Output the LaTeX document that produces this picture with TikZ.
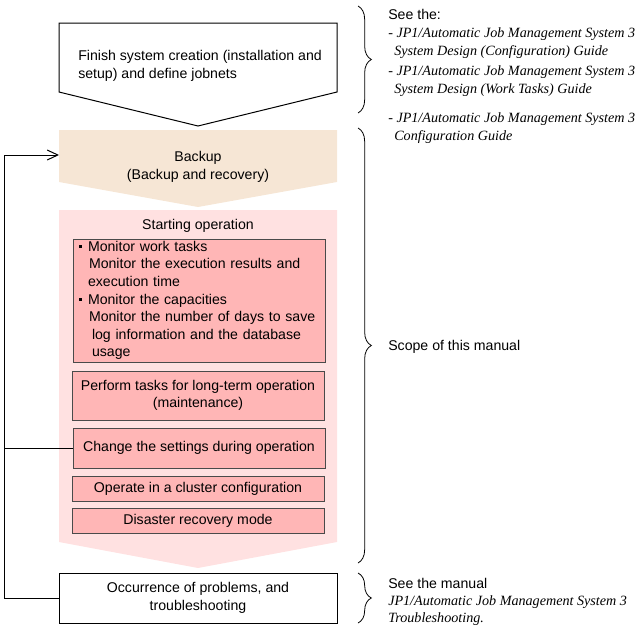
\documentclass[tikz,border=0pt]{standalone}
\usepackage{fontspec}
\setmainfont{Liberation Sans}
\newfontfamily\manualfont{Liberation Serif}
\usetikzlibrary{arrows.meta,decorations.pathreplacing}

\definecolor{backupfill}{HTML}{F6E6D5}
\definecolor{opfill}{HTML}{FFE1E1}
\definecolor{taskfill}{HTML}{FFB6B6}
\definecolor{taskdraw}{HTML}{4A4A4A}

\newcommand{\taskdot}{\makebox[8.25pt][l]{\hspace*{1.5pt}\raisebox{2.6pt}{\rule{1.9pt}{1.9pt}}}}

\begin{document}
\begin{tikzpicture}[x=0.75pt, y=-0.75pt, font=\fontsize{10.6}{13.2}\selectfont]
		\tikzset{task/.style={draw=taskdraw, fill=taskfill, line width=0.75pt, minimum width=189pt, align=center, inner sep=0pt}};
		\tikzset{plain/.style={draw=black, fill=white, line width=0.75pt, minimum width=208.5pt, minimum height=37.5pt, align=center, inner sep=0pt}};
		\tikzset{ref/.style={anchor=base west, inner sep=0pt}};
		\tikzset{book/.style={ref, font=\fontsize{10.6}{13.2}\manualfont\itshape}};
		\tikzset{curly/.style={decorate, decoration={brace, amplitude=10pt}, line width=0.6pt}};

		\useasboundingbox (0,0) rectangle (643,629);

		% phases
		\draw[line width=0.75pt, fill=white] (59,23) -- (337,23) -- (337,92) -- (198,126) -- (59,92) -- cycle;
		\fill[backupfill] (59,130) -- (337,130) -- (337,182) -- (198,207) -- (59,182) -- cycle;
		\fill[opfill] (59,210) -- (337,210) -- (337,542) -- (198,568) -- (59,542) -- cycle;

		\node[anchor=west, align=left, inner sep=0pt] (create) at (78,66) {Finish system creation (installation and\\setup) and define jobnets};
		\node[align=center, inner sep=0pt] (backup) at (198,167) {Backup\\(Backup and recovery)};
		\node[inner sep=0pt] (start) at (198,226) {Starting operation};

		\node[task, minimum height=92.25pt, align=left, inner xsep=3pt, text width=183pt] (monitor) at (199,300.5) {%
			\taskdot Monitor work tasks\\
			\hspace*{9pt}Monitor the execution results and\\
			\hspace*{8.25pt}execution time\\
			\taskdot Monitor the capacities\\
			\hspace*{9pt}Monitor the number of days to save\\
			\hspace*{11.25pt}log information and the database\\
			\hspace*{11.25pt}usage};
		\node[task, minimum height=36.75pt] (maint) at (198,395.5) {Perform tasks for long-term operation\\(maintenance)};
		\node[task, minimum height=30pt] (change) at (199,448) {Change the settings during operation};
		\node[task, minimum height=18.75pt] (cluster) at (198,488.5) {Operate in a cluster configuration};
		\node[task, minimum height=18.75pt] (disaster) at (198,520.5) {Disaster recovery mode};

		\node[plain] (trouble) at (198,598) {Occurrence of problems, and\\troubleshooting};

		% loop back to backup
		\coordinate (turn) at (4,155);
		\coordinate (backin) at (59,155);
		\draw[line width=0.75pt, -{Straight Barb[length=8pt, width=7.5pt]}] (trouble.west) -| (turn) -- (backin);
		\draw[line width=0.75pt] (change.west) -- (change.west -| turn);

		% manuals
		\draw[curly] (358,6) -- (358,113);
		\draw[curly] (358,128) -- (358,563);
		\draw[curly] (358,573) -- (358,623);

		\node[ref] (seethe) at (388,19) {See the:};
		\node[book] (design1) at (388,37) {- JP1/Automatic Job Management System 3};
		\node[book] (design1b) at (394,55) {System Design (Configuration) Guide};
		\node[book] (design2) at (388,75) {- JP1/Automatic Job Management System 3};
		\node[book] (design2b) at (394,93) {System Design (Work Tasks) Guide};
		\node[book] (config) at (388,122) {- JP1/Automatic Job Management System 3};
		\node[book] (configb) at (394,140) {Configuration Guide};

		\node[ref] (scope) at (388,350) {Scope of this manual};

		\node[ref] (seemanual) at (388,588) {See the manual};
		\node[book] (tbook) at (388,605) {JP1/Automatic Job Management System 3};
		\node[book] (tbookb) at (388,622) {Troubleshooting.};
	\end{tikzpicture}
\end{document}
